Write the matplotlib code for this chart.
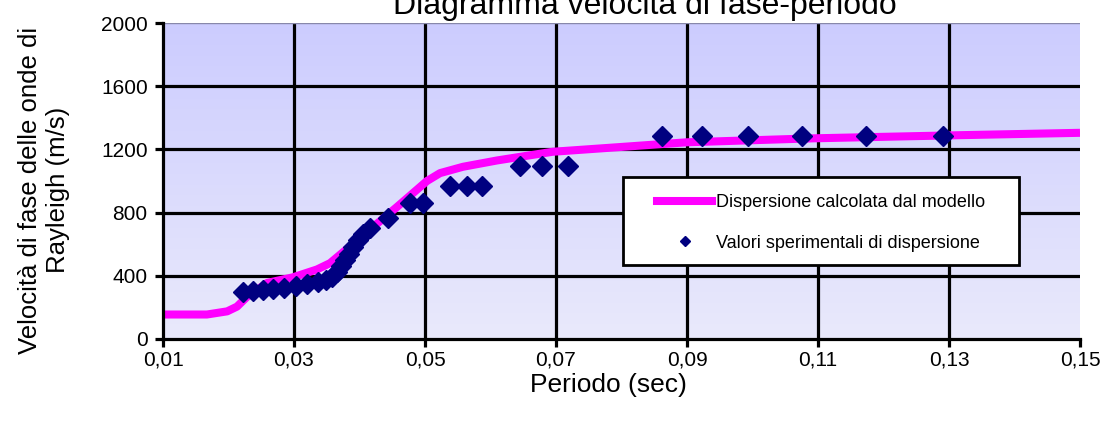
import numpy as np
import matplotlib
matplotlib.use("Agg")
import matplotlib.pyplot as plt
from matplotlib.lines import Line2D
from matplotlib.patches import Rectangle

plt.rcParams['font.family'] = ['Liberation Sans', 'DejaVu Sans']

# Model dispersion curve
model_period = [0.010, 0.0167, 0.0198, 0.0213, 0.0228, 0.0259, 0.0298, 0.0335, 0.0355,
                0.0401, 0.0457, 0.0503, 0.0523, 0.0558, 0.0610, 0.0656, 0.0695, 0.0798,
                0.0900, 0.1092, 0.1317, 0.150]
model_velocity = [155, 155, 175, 205, 266, 355, 390, 440, 480,
                  640, 835, 1000, 1050, 1090, 1130, 1160, 1185, 1215,
                  1245, 1270, 1290, 1305]

# Experimental dispersion values
exp_period = [0.0222, 0.0237, 0.0253, 0.0268, 0.0285, 0.0303, 0.0320, 0.0337, 0.0349,
              0.0358, 0.0366, 0.0372, 0.0378, 0.0384, 0.0390, 0.0398, 0.0405, 0.0416,
              0.0444, 0.0477, 0.0497, 0.0538, 0.0564, 0.0587, 0.0645, 0.0679, 0.0718,
              0.0862, 0.0923, 0.0993, 0.1076, 0.1173, 0.1291]
exp_velocity = [298, 302, 310, 318, 325, 335, 348, 360, 375,
                395, 425, 460, 500, 540, 585, 625, 665, 705,
                766, 860, 860, 968, 968, 968, 1092, 1092, 1092,
                1282, 1282, 1282, 1282, 1282, 1282]

x_ticks = [0.01, 0.03, 0.05, 0.07, 0.09, 0.11, 0.13, 0.15]
x_tick_labels = ['0,01', '0,03', '0,05', '0,07', '0,09', '0,11', '0,13', '0,15']
y_ticks = [0, 400, 800, 1200, 1600, 2000]
y_tick_labels = ['0', '400', '800', '1200', '1600', '2000']

title = 'Diagramma velocità di fase-periodo'
xlabel = 'Periodo (sec)'
ylabel = 'Velocità di fase delle onde di\nRayleigh (m/s)'
label_model = 'Dispersione calcolata dal modello'
label_exp = 'Valori sperimentali di dispersione'

W, H = 1106, 424
L, R, T, B = 163, 1080, 23, 339

fig = plt.figure(figsize=(W / 100, H / 100), dpi=100)
ax = fig.add_axes([L / W, 1 - B / H, (R - L) / W, (B - T) / H])

def ax_xy(px, py):
    return ((px - L) / (R - L), (B - py) / (B - T))

# gradient background
grad = np.linspace(0, 1, 256).reshape(-1, 1)
top = np.array([0.80, 0.80, 1.0])
bot = np.array([0.915, 0.915, 0.985])
img = top[None, None, :] * (1 - grad[:, :, None]) + bot[None, None, :] * grad[:, :, None]
ax.imshow(img, extent=[0.01, 0.15, 0, 2000], origin='upper', aspect='auto', zorder=0)

ax.set_xlim(0.01, 0.15)
ax.set_ylim(0, 2000)

for xv in x_ticks[1:-1]:
    ax.axvline(xv, color='black', lw=2.3, zorder=1)
for yv in y_ticks[1:-1]:
    ax.axhline(yv, color='black', lw=2.3, zorder=1)
ax.axhline(2000, color='#8888aa', lw=1.0, zorder=1)

ax.plot(model_period, model_velocity, color='#FF00FF', lw=5.8, zorder=3,
        solid_capstyle='butt', solid_joinstyle='round')
ax.plot(exp_period, exp_velocity, linestyle='none', marker='D', markersize=10,
        color='#000080', zorder=4)

for s in ['top', 'right']:
    ax.spines[s].set_visible(False)
for s in ['left', 'bottom']:
    ax.spines[s].set_linewidth(2.3)
    ax.spines[s].set_zorder(5)

ax.set_xticks(x_ticks)
ax.set_xticklabels(x_tick_labels, fontsize=15)
ax.set_yticks(y_ticks)
ax.set_yticklabels(y_tick_labels, fontsize=15)
ax.tick_params(axis='both', direction='out', length=6, width=2.3)
ax.tick_params(axis='x', pad=2)
ax.tick_params(axis='y', pad=5)

fig.text(645 / W, 1 - 14 / H, title, ha='center', va='baseline', fontsize=23)
fig.text(608 / W, 1 - 385 / H, xlabel, ha='center', va='center', fontsize=19)
fig.text(44 / W, 1 - 190 / H, ylabel, ha='center', va='center', fontsize=18.5,
         rotation=90, multialignment='center', linespacing=1.2)

# legend box
x0, y0 = ax_xy(623, 265)
x1, y1 = ax_xy(1019, 177)
box = Rectangle((x0, y0), x1 - x0, y1 - y0, transform=ax.transAxes,
                facecolor='white', edgecolor='black', lw=2, zorder=6)
ax.add_patch(box)

handles = [Line2D([], [], color='#FF00FF', lw=5.8),
           Line2D([], [], linestyle='none', marker='D', markersize=5.5, color='#000080')]
lx, ly = ax_xy(657, 223)
leg = ax.legend(handles, [label_model, label_exp], loc='center left',
                bbox_to_anchor=(lx, ly), fontsize=13, frameon=False,
                handlelength=3.05, handletextpad=0.2, labelspacing=1.3,
                borderpad=0, borderaxespad=0)
leg.set_zorder(7)

fig.savefig('out.png', dpi=100)
